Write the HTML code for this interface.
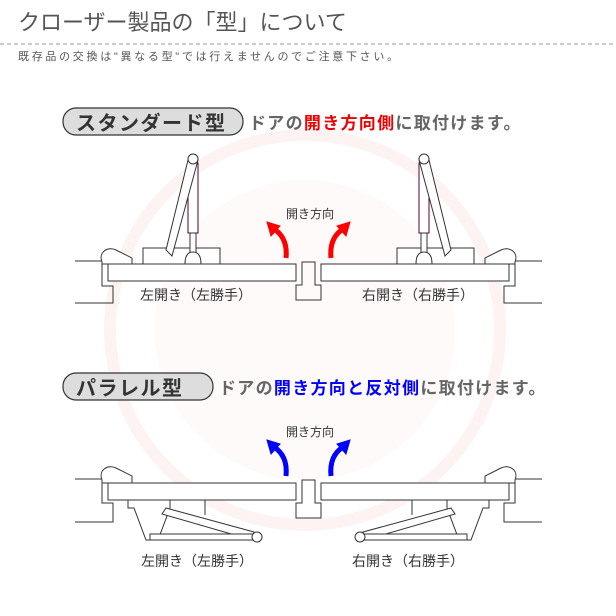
<!DOCTYPE html>
<html><head><meta charset="utf-8"><style>
body{margin:0;width:616px;height:616px;background:#fff;overflow:hidden;font-family:"Liberation Sans","Noto Sans CJK JP",sans-serif}
svg{position:absolute;left:0;top:0}
</style></head><body>
<svg width="616" height="616" viewBox="0 0 616 616" xmlns="http://www.w3.org/2000/svg" font-family="Liberation Sans, Noto Sans CJK JP, sans-serif">
<circle cx="305" cy="330" r="195" fill="none" stroke="#fdf3f3" stroke-width="12"/>
<circle cx="305" cy="330" r="150" fill="#fefafa"/>
<text x="18" y="30" font-size="22" fill="#555">クローザー製品の「型」について</text>
<line x1="0" y1="44" x2="616" y2="44" stroke="#999" stroke-dasharray="4,3"/>
<text x="18" y="60" font-size="11" fill="#555" letter-spacing="2.7">既存品の交換は"異なる型"では行えませんのでご注意下さい。</text>

<rect x="63" y="108" width="180" height="27" rx="13" fill="#ddd" stroke="#333" stroke-width="1.2"/>
<text x="76" y="130" font-size="20" font-weight="bold" fill="#333" letter-spacing="1.5">スタンダード型</text>
<text x="249" y="129" font-size="17" font-weight="bold" fill="#666" letter-spacing="1.3">ドアの<tspan fill="#e00">開き方向側</tspan>に取付けます。</text>

<rect x="63" y="373" width="150" height="27" rx="13" fill="#ddd" stroke="#333" stroke-width="1.2"/>
<text x="76" y="395" font-size="20" font-weight="bold" fill="#333" letter-spacing="1.5">パラレル型</text>
<text x="219" y="394" font-size="17" font-weight="bold" fill="#666" letter-spacing="1.3">ドアの<tspan fill="#00f">開き方向と反対側</tspan>に取付けます。</text>

<defs>
<g id="std" fill="#fff" stroke="#333" stroke-width="1">
<path d="M75 261 H102 V286 H113 V303 H75" fill="none"/>
<path d="M102 262 C98 252 108 246 116 250 L132 258 V264 H102 Z"/>
<rect x="143" y="248" width="77" height="16"/>
<rect x="108" y="264" width="188" height="17"/>
<rect x="188" y="163" width="10" height="70" stroke="#503"/>
<rect x="190" y="233" width="6" height="25"/>
<path d="M185 264 Q185 252 193 252 Q201 252 201 264 Z"/>
<path d="M188 160 L166 250 L172 256 L198 160 Z"/>
<circle cx="193" cy="159" r="5"/>
<path d="M302 262 H315 V285 H321 V300 H296 V285 H302 Z" fill="none"/>
<path d="M286 258 Q288 238 274 229" fill="none" stroke="red" stroke-width="5"/>
<path d="M267 222 L280 226 L271 236 Z" fill="red" stroke="red"/>
</g>
<g id="par" fill="#fff" stroke="#333" stroke-width="1">
<path d="M75 479 H102 V503 H113 V522 H75" fill="none"/>
<path d="M102 480 C98 470 108 464 116 468 L132 476 V483 H102 Z"/>
<rect x="108" y="483" width="188" height="17"/>
<line x1="205" y1="500" x2="205" y2="515"/>
<path d="M128 500 H170 V508 L158 540 H146 L134 508 H128 Z"/>
<path d="M166 508 L254 532 L252 540 L162 514 Z"/>
<rect x="150" y="534" width="104" height="6"/>
<circle cx="257" cy="537" r="5"/>
<path d="M302 480 H315 V503 H321 V518 H296 V503 H302 Z" fill="none"/>
<path d="M286 476 Q288 456 274 447" fill="none" stroke="#00f" stroke-width="5"/>
<path d="M267 440 L280 444 L271 454 Z" fill="#00f" stroke="#00f"/>
</g>
</defs>
<use href="#std"/>
<use href="#std" transform="translate(617,0) scale(-1,1)"/>
<use href="#par"/>
<use href="#par" transform="translate(617,0) scale(-1,1)"/>

<text x="310" y="218" font-size="12" fill="#333" text-anchor="middle">開き方向</text>
<text x="310" y="436" font-size="12" fill="#333" text-anchor="middle">開き方向</text>
<g font-size="14" fill="#333" text-anchor="middle">
<text x="196" y="300">左開き（左勝手）</text>
<text x="418" y="300">右開き（右勝手）</text>
<text x="197" y="566">左開き（左勝手）</text>
<text x="408" y="566">右開き（右勝手）</text>
</g>
</svg>
</body></html>
